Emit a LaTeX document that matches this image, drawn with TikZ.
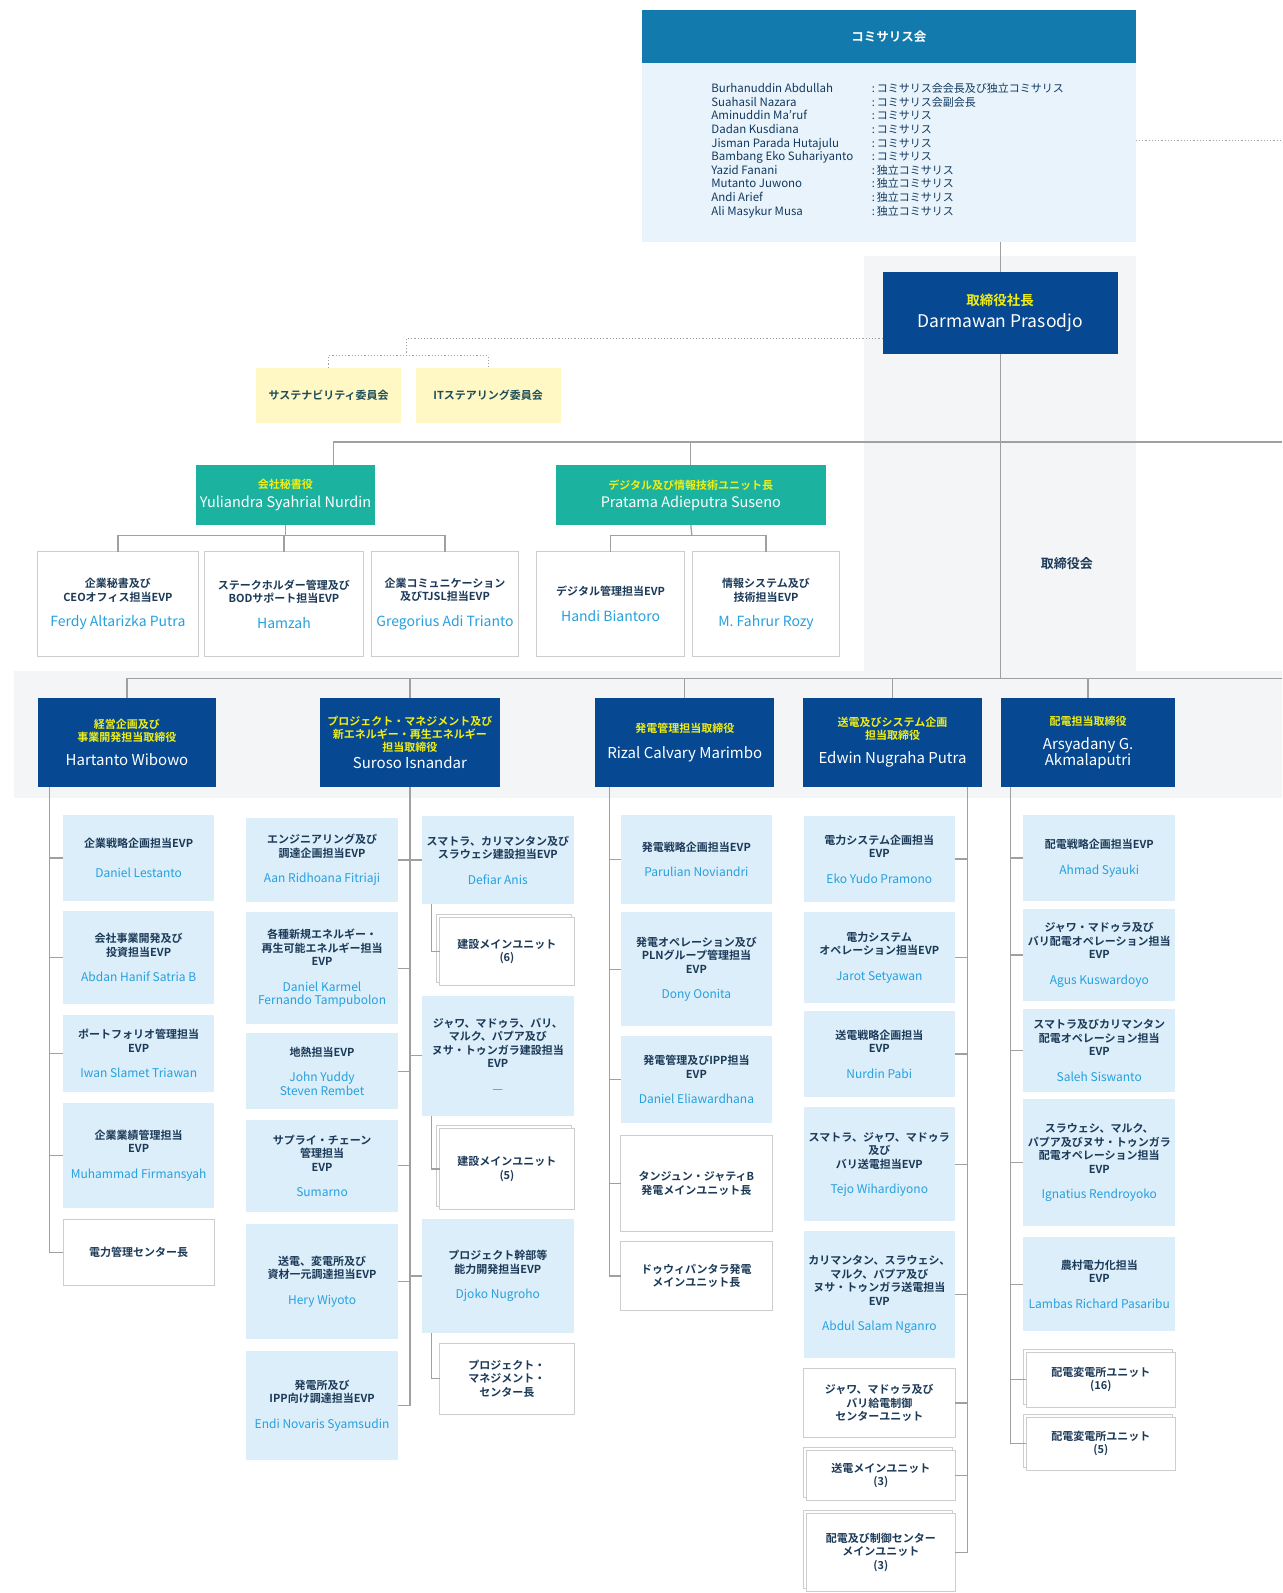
\documentclass[tikz,border=0pt]{standalone}
\usepackage{fontspec}
\setmainfont{Noto Sans CJK JP}[BoldFont={Noto Sans CJK JP Bold}]
\usetikzlibrary{shadows}
\definecolor{komhead}{RGB}{18,122,172}
\definecolor{kombody}{RGB}{232,243,251}
\definecolor{komtext}{RGB}{18,58,96}
\definecolor{navy}{RGB}{6,72,145}
\definecolor{ylw}{RGB}{240,238,20}
\definecolor{secteal}{RGB}{28,178,160}
\definecolor{lbfill}{RGB}{219,238,250}
\definecolor{namec}{RGB}{38,160,222}
\definecolor{titlec}{RGB}{28,58,88}
\definecolor{linec}{RGB}{160,160,160}
\definecolor{comfill}{RGB}{255,247,196}
\definecolor{comtext}{RGB}{30,78,88}
\definecolor{panel}{RGB}{244,245,247}
\definecolor{wborder}{RGB}{205,205,205}
\newcommand{\orgbox}[7]{\node[#2, minimum width={(#5-#3)*1.016pt}, minimum height={(#6-#4)*1.016pt}] (#1) at ({(#3+#5)/2},{(#4+#6)/2}) {#7};}
\newcommand{\pnm}[1]{{\mdseries\fontsize{12}{14}\selectfont\color{namec}#1}}
\newcommand{\psnm}[1]{{\mdseries\fontsize{14}{16}\selectfont\color{namec}#1}}
\newcommand{\pdnm}[1]{{\mdseries\fontsize{15}{17}\selectfont\color{white}#1}}
\begin{document}
\begin{tikzpicture}[x=1.016pt,y=-1.016pt,
  conn/.style={draw=linec, line width=1.3pt},
  dotl/.style={draw=linec, line width=1.2pt, dotted},
  base/.style={inner sep=0pt, outer sep=0pt, align=center},
  lbox/.style={base, fill=lbfill, text=titlec, font=\bfseries\fontsize{11}{13.5}\selectfont},
  wbox/.style={base, fill=white, draw=wborder, line width=0.9pt, text=titlec, font=\bfseries\fontsize{11}{13.5}\selectfont},
  sbox/.style={wbox, copy shadow={shadow xshift=-3pt, shadow yshift=3pt, fill=white, draw=wborder, line width=0.9pt}},
  navybox/.style={base, fill=navy, text=ylw, font=\bfseries\fontsize{11}{13}\selectfont},
  tealbox/.style={base, fill=secteal, text=ylw, font=\bfseries\fontsize{11}{12}\selectfont},
  combox/.style={base, fill=comfill, text=comtext, font=\bfseries\fontsize{11}{13}\selectfont},
  komtxt/.style={inner sep=0pt, align=left, text=komtext}
]
\useasboundingbox (0,0) rectangle (1262,1568);
\fill[white] (0,0) rectangle (1262,1568);
% background panels
\fill[panel] (850,252) rectangle (1118,660);
\fill[panel] (14,660) rectangle (1262,785);

% coordinates
\coordinate (e1) at (1262,138);
\coordinate (e2) at (1262,435);
\coordinate (e3) at (1262,668);
\coordinate (dotA) at (400,333);
\coordinate (dotB) at (400,350);
\coordinate (secbus) at (281,527);
\coordinate (digbus) at (681,527);

% commissioners
\orgbox{komh}{base, fill=komhead, text=white, font=\bfseries\fontsize{12.5}{14}\selectfont}{632}{10}{1118}{62}{コミサリス会}
\orgbox{komb}{base, fill=kombody}{632}{62}{1118}{238}{}
\node[komtxt, anchor=north west, font=\fontsize{11.5}{13.6}\selectfont] (komn) at (700,82) {Burhanuddin Abdullah\\Suahasil Nazara\\Aminuddin Ma'ruf\\Dadan Kusdiana\\Jisman Parada Hutajulu\\Bambang Eko Suhariyanto\\Yazid Fanani\\Mutanto Juwono\\Andi Arief\\Ali Masykur Musa};
\node[komtxt, anchor=north west, font=\fontsize{11}{13.6}\selectfont] (komr) at (858,82) {:\,コミサリス会会長及び独立コミサリス\\:\,コミサリス会副会長\\:\,コミサリス\\:\,コミサリス\\:\,コミサリス\\:\,コミサリス\\:\,独立コミサリス\\:\,独立コミサリス\\:\,独立コミサリス\\:\,独立コミサリス};

% president director
\orgbox{dir}{navybox}{869}{268}{1100}{348}{{\fontsize{13.5}{15}\selectfont 取締役社長}\\[6pt]{\mdseries\fontsize{17.5}{19}\selectfont\color{white}Darmawan Prasodjo}}
\node[text=titlec, font=\bfseries\fontsize{13}{15}\selectfont] (bod) at (1050,555) {取締役会};

% committees
\orgbox{com1}{combox}{252}{362}{395}{416}{サステナビリティ委員会}
\orgbox{com2}{combox}{409}{362}{552}{416}{ITステアリング委員会}

% secretary & digital
\orgbox{sec}{tealbox}{193}{458}{369}{517}{会社秘書役\\[5pt]{\mdseries\fontsize{14.5}{16}\selectfont\color{white}Yuliandra Syahrial Nurdin}}
\orgbox{dig}{tealbox}{547}{458}{813}{517}{デジタル及び情報技術ユニット長\\[5pt]{\mdseries\fontsize{14.5}{16}\selectfont\color{white}Pratama Adieputra Suseno}}
\orgbox{sa}{wbox}{37}{543}{195}{646}{企業秘書及び\\CEOオフィス担当EVP\\[12pt]\psnm{Ferdy Altarizka Putra}}
\orgbox{sb}{wbox}{201}{543}{358}{646}{ステークホルダー管理及び\\BODサポート担当EVP\\[12pt]\psnm{Hamzah}}
\orgbox{sc}{wbox}{366}{543}{510}{646}{企業コミュニケーション\\及びTJSL担当EVP\\[12pt]\psnm{Gregorius Adi Trianto}}
\orgbox{sd}{wbox}{528}{543}{674}{646}{デジタル管理担当EVP\\[12pt]\psnm{Handi Biantoro}}
\orgbox{se}{wbox}{682}{543}{826}{646}{情報システム及び\\技術担当EVP\\[12pt]\psnm{M. Fahrur Rozy}}

% directors
\orgbox{d1}{navybox}{37}{687}{213}{775}{経営企画及び\\事業開発担当取締役\\[11pt]\pdnm{Hartanto Wibowo}}
\orgbox{d2}{navybox}{315}{687}{492}{775}{プロジェクト・マネジメント及び\\新エネルギー・再生エネルギー\\担当取締役\\[4pt]\pdnm{Suroso Isnandar}}
\orgbox{d3}{navybox}{586}{687}{762}{775}{発電管理担当取締役\\[13pt]\pdnm{Rizal Calvary Marimbo}}
\orgbox{d4}{navybox}{790}{687}{967}{775}{送電及びシステム企画\\担当取締役\\[11pt]\pdnm{Edwin Nugraha Putra}}
\orgbox{d5}{navybox}{985}{687}{1157}{775}{配電担当取締役\\[11pt]\pdnm{Arsyadany G.}\\\pdnm{Akmalaputri}}

% column 1
\orgbox{b11}{lbox}{62}{802}{211}{887}{企業戦略企画担当EVP\\[16pt]\pnm{Daniel Lestanto}}
\orgbox{b12}{lbox}{62}{897}{211}{988}{会社事業開発及び\\投資担当EVP\\[12pt]\pnm{Abdan Hanif Satria B}}
\orgbox{b13}{lbox}{62}{999}{211}{1075}{ポートフォリオ管理担当\\EVP\\[12pt]\pnm{Iwan Slamet Triawan}}
\orgbox{b14}{lbox}{62}{1086}{211}{1189}{企業業績管理担当\\EVP\\[12pt]\pnm{Muhammad Firmansyah}}
\orgbox{b15}{wbox}{62}{1200}{211}{1265}{電力管理センター長}

% column 2
\orgbox{b21}{lbox}{242}{805}{392}{888}{エンジニアリング及び\\調達企画担当EVP\\[12pt]\pnm{Aan Ridhoana Fitriaji}}
\orgbox{b22}{lbox}{242}{898}{392}{1008}{各種新規エネルギー・\\再生可能エネルギー担当\\EVP\\[12pt]\pnm{Daniel Karmel}\\\pnm{Fernando Tampubolon}}
\orgbox{b23}{lbox}{242}{1017}{392}{1092}{地熱担当EVP\\[12pt]\pnm{John Yuddy}\\\pnm{Steven Rembet}}
\orgbox{b24}{lbox}{242}{1102}{392}{1193}{サプライ・チェーン\\管理担当\\EVP\\[12pt]\pnm{Sumarno}}
\orgbox{b25}{lbox}{242}{1205}{392}{1318}{送電、変電所及び\\資材一元調達担当EVP\\[12pt]\pnm{Hery Wiyoto}}
\orgbox{b26}{lbox}{242}{1330}{392}{1437}{発電所及び\\IPP向け調達担当EVP\\[12pt]\pnm{Endi Novaris Syamsudin}}

% column 3
\orgbox{b31}{lbox}{415}{803}{565}{890}{スマトラ、カリマンタン及び\\スラウェシ建設担当EVP\\[12pt]\pnm{Defiar Anis}}
\orgbox{u31}{sbox}{433}{903}{565}{970}{建設メインユニット\\(6)}
\orgbox{b32}{lbox}{415}{980}{565}{1098}{ジャワ、マドゥラ、バリ、\\マルク、パプア及び\\ヌサ・トゥンガラ建設担当\\EVP\\[12pt]\pnm{—}}
\orgbox{u32}{sbox}{433}{1111}{565}{1190}{建設メインユニット\\(5)}
\orgbox{b33}{lbox}{415}{1200}{565}{1312}{プロジェクト幹部等\\能力開発担当EVP\\[12pt]\pnm{Djoko Nugroho}}
\orgbox{u33}{wbox}{433}{1322}{565}{1392}{プロジェクト・\\マネジメント・\\センター長}

% column 4
\orgbox{b41}{lbox}{611}{802}{760}{890}{発電戦略企画担当EVP\\[12pt]\pnm{Parulian Noviandri}}
\orgbox{b42}{lbox}{611}{898}{760}{1010}{発電オペレーション及び\\PLNグループ管理担当\\EVP\\[12pt]\pnm{Dony Oonita}}
\orgbox{b43}{lbox}{611}{1020}{760}{1105}{発電管理及びIPP担当\\EVP\\[12pt]\pnm{Daniel Eliawardhana}}
\orgbox{b44}{wbox}{611}{1118}{760}{1212}{タンジュン・ジャティB\\発電メインユニット長}
\orgbox{b45}{wbox}{611}{1222}{760}{1290}{ドゥウィパンタラ発電\\メインユニット長}

% column 5
\orgbox{b51}{lbox}{791}{803}{940}{888}{電力システム企画担当\\EVP\\[12pt]\pnm{Eko Yudo Pramono}}
\orgbox{b52}{lbox}{791}{898}{940}{987}{電力システム\\オペレーション担当EVP\\[12pt]\pnm{Jarot Setyawan}}
\orgbox{b53}{lbox}{791}{995}{940}{1080}{送電戦略企画担当\\EVP\\[12pt]\pnm{Nurdin Pabi}}
\orgbox{b54}{lbox}{791}{1090}{940}{1202}{スマトラ、ジャワ、マドゥラ\\及び\\バリ送電担当EVP\\[12pt]\pnm{Tejo Wihardiyono}}
\orgbox{b55}{lbox}{791}{1212}{940}{1337}{カリマンタン、スラウェシ、\\マルク、パプア及び\\ヌサ・トゥンガラ送電担当\\EVP\\[12pt]\pnm{Abdul Salam Nganro}}
\orgbox{b56}{wbox}{791}{1347}{940}{1415}{ジャワ、マドゥラ及び\\バリ給電制御\\センターユニット}
\orgbox{b57}{sbox}{794}{1428}{940}{1477}{送電メインユニット\\(3)}
\orgbox{b58}{sbox}{794}{1490}{940}{1566}{配電及び制御センター\\メインユニット\\(3)}

% column 6
\orgbox{b61}{lbox}{1007}{802}{1157}{887}{配電戦略企画担当EVP\\[12pt]\pnm{Ahmad Syauki}}
\orgbox{b62}{lbox}{1007}{895}{1157}{985}{ジャワ・マドゥラ及び\\バリ配電オペレーション担当\\EVP\\[12pt]\pnm{Agus Kuswardoyo}}
\orgbox{b63}{lbox}{1007}{993}{1157}{1075}{スマトラ及びカリマンタン\\配電オペレーション担当\\EVP\\[12pt]\pnm{Saleh Siswanto}}
\orgbox{b64}{lbox}{1007}{1082}{1157}{1207}{スラウェシ、マルク、\\パプア及びヌサ・トゥンガラ\\配電オペレーション担当\\EVP\\[12pt]\pnm{Ignatius Rendroyoko}}
\orgbox{b65}{lbox}{1007}{1218}{1157}{1310}{農村電力化担当\\EVP\\[12pt]\pnm{Lambas Richard Pasaribu}}
\orgbox{b66}{sbox}{1010}{1331}{1157}{1385}{配電変電所ユニット\\(16)}
\orgbox{b67}{sbox}{1010}{1395}{1157}{1447}{配電変電所ユニット\\(5)}

% connectors
\draw[dotl] (komb.east |- e1) -- (e1);
\draw[conn] (dir.north) -- (dir.north |- komb.south);
\draw[conn] (dir.south) -- (dir.south |- e3);
\draw[dotl] (dir.west |- dotA) -- (dotA) -- (dotB);
\draw[dotl] (com1.north) |- (dotB) -| (com2.north);
\draw[conn] ([xshift=48pt]sec.north) |- (e2);
\draw[conn] (dig.north) -- (dig.north |- e2);
\draw[conn] (sec.south) -- (secbus);
\draw[conn] (sa.north) |- (secbus) -| (sc.north);
\draw[conn] (sb.north) -- (sb.north |- secbus);
\draw[conn] (dig.south) -- (digbus);
\draw[conn] (sd.north) |- (digbus) -| (se.north);
\draw[conn] (d1.north) |- (e3);
\foreach \d in {d2,d3,d4,d5} \draw[conn] (\d.north) -- (\d.north |- e3);
\foreach \b in {b11,b12,b13,b14,b15} \draw[conn] ([xshift=12pt]d1.south west) |- (\b.west);
\foreach \b in {b21,b22,b23,b24,b25,b26} \draw[conn] (d2.south) |- (\b.east);
\foreach \b in {b31,b32,b33} \draw[conn] (d2.south) |- (\b.west);
\draw[conn] ([xshift=10pt]b31.south west) |- (u31.west);
\draw[conn] ([xshift=10pt]b32.south west) |- (u32.west);
\draw[conn] ([xshift=10pt]b33.south west) |- (u33.west);
\foreach \b in {b41,b42,b43,b44,b45} \draw[conn] ([xshift=14pt]d3.south west) |- (\b.west);
\foreach \b in {b51,b52,b53,b54,b55,b56,b57,b58} \draw[conn] ([xshift=-15pt]d4.south east) |- (\b.east);
\foreach \b in {b61,b62,b63,b64,b65,b66,b67} \draw[conn] ([xshift=10pt]d5.south west) |- (\b.west);
\end{tikzpicture}
\end{document}
